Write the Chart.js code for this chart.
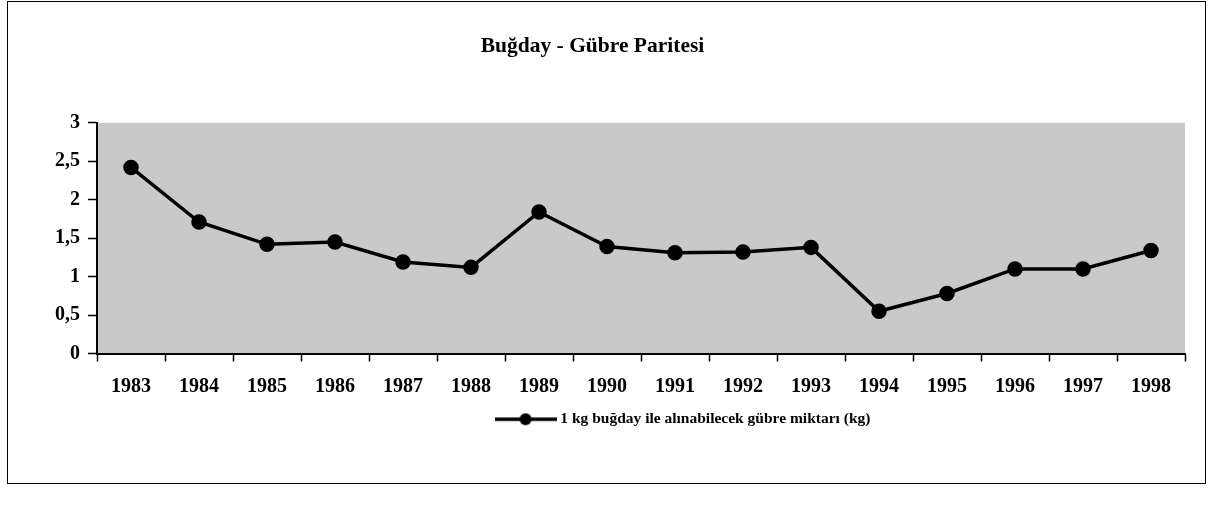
<!DOCTYPE html>
<html>
<head>
<meta charset="utf-8">
<script src="https://cdn.jsdelivr.net/npm/chart.js@4"></script>
<style>
  body { margin: 0; background: #fff; }
  #wrap { position: relative; width: 1210px; height: 513px; }
  #frame { position: absolute; left: 7px; top: 1px; width: 1197px; height: 481px; border: 1px solid #000; pointer-events: none; }
</style>
</head>
<body>
<div id="wrap">
  <canvas id="myChart" width="1210" height="513"></canvas>
  <div id="frame"></div>
</div>
<script>
const years = ['1983', '1984', '1985', '1986', '1987', '1988', '1989', '1990',
  '1991', '1992', '1993', '1994', '1995', '1996', '1997', '1998'];
const parity = [2.42, 1.71, 1.42, 1.45, 1.19, 1.12, 1.84, 1.39,
  1.31, 1.32, 1.38, 0.55, 0.78, 1.10, 1.10, 1.34];
const yTicks = [0, 0.5, 1, 1.5, 2, 2.5, 3];
const seriesName = '1 kg buğday ile alınabilecek gübre miktarı (kg)';

const ctx = document.getElementById('myChart');
const serif = 'Liberation Serif, Times New Roman, serif';

// legend marker: line with a dot in the middle
const marker = document.createElement('canvas');
marker.width = 62;
marker.height = 14;
(function () {
  const c = marker.getContext('2d');
  c.strokeStyle = '#000';
  c.lineWidth = 3.5;
  c.beginPath();
  c.moveTo(0, 7);
  c.lineTo(62, 7);
  c.stroke();
  c.fillStyle = '#000';
  c.beginPath();
  c.arc(31, 7, 6, 0, Math.PI * 2);
  c.fill();
})();

// grey plot background
const plotBg = {
  id: 'plotBg',
  beforeDraw(chart) {
    const a = chart.chartArea;
    const g = chart.ctx;
    g.save();
    g.fillStyle = '#c9c9c9';
    g.fillRect(a.left, a.top, a.right - a.left, a.bottom - a.top);
    g.restore();
  }
};

// legend sits a bit right of centre (and a touch higher) in the original
const legendShift = {
  id: 'legendShift',
  afterLayout(chart) {
    chart.legend.left += 92;
    chart.legend.right += 92;
    chart.legend.top -= 3;
    chart.legend.bottom -= 3;
  }
};

new Chart(ctx, {
  type: 'line',
  data: {
    labels: years,
    datasets: [{
      label: seriesName,
      data: parity,
      borderColor: '#000',
      backgroundColor: '#000',
      borderWidth: 3.5,
      pointRadius: 6,
      pointHoverRadius: 6,
      pointBackgroundColor: '#000',
      tension: 0
    }]
  },
  options: {
    responsive: false,
    animation: false,
    layout: { padding: { left: 0, right: 25, top: 0, bottom: 73 } },
    plugins: {
      title: {
        display: true,
        text: 'Buğday - Gübre Paritesi',
        color: '#000',
        font: { family: serif, size: 21.5, weight: 'bold' },
        padding: { top: 34, bottom: 63 }
      },
      legend: {
        position: 'bottom',
        labels: {
          color: '#000',
          font: { family: serif, size: 15.5, weight: 'bold' },
          usePointStyle: true,
          pointStyleWidth: 54,
          padding: 3,
          generateLabels(chart) {
            const items = Chart.defaults.plugins.legend.labels.generateLabels(chart);
            items.forEach(it => { it.pointStyle = marker; });
            return items;
          }
        }
      },
      tooltip: { enabled: false }
    },
    scales: {
      x: {
        offset: true,
        grid: {
          offset: true,
          drawOnChartArea: false,
          color: '#000',
          tickLength: 8,
          tickWidth: 1.5
        },
        border: { color: '#000', width: 2 },
        ticks: {
          color: '#000',
          padding: 13,
          maxRotation: 0,
          font: { family: serif, size: 20, weight: 'bold' }
        }
      },
      y: {
        min: 0,
        max: 3,
        afterFit(scale) { scale.width = 97; },
        afterBuildTicks(scale) { scale.ticks = yTicks.map(v => ({ value: v })); },
        grid: {
          drawOnChartArea: false,
          color: '#000',
          tickLength: 9,
          tickWidth: 1.5
        },
        border: { color: '#000', width: 2 },
        ticks: {
          color: '#000',
          padding: 8,
          font: { family: serif, size: 20, weight: 'bold' },
          callback: v => String(v).replace('.', ',')
        }
      }
    }
  },
  plugins: [plotBg, legendShift]
});
</script>
</body>
</html>
